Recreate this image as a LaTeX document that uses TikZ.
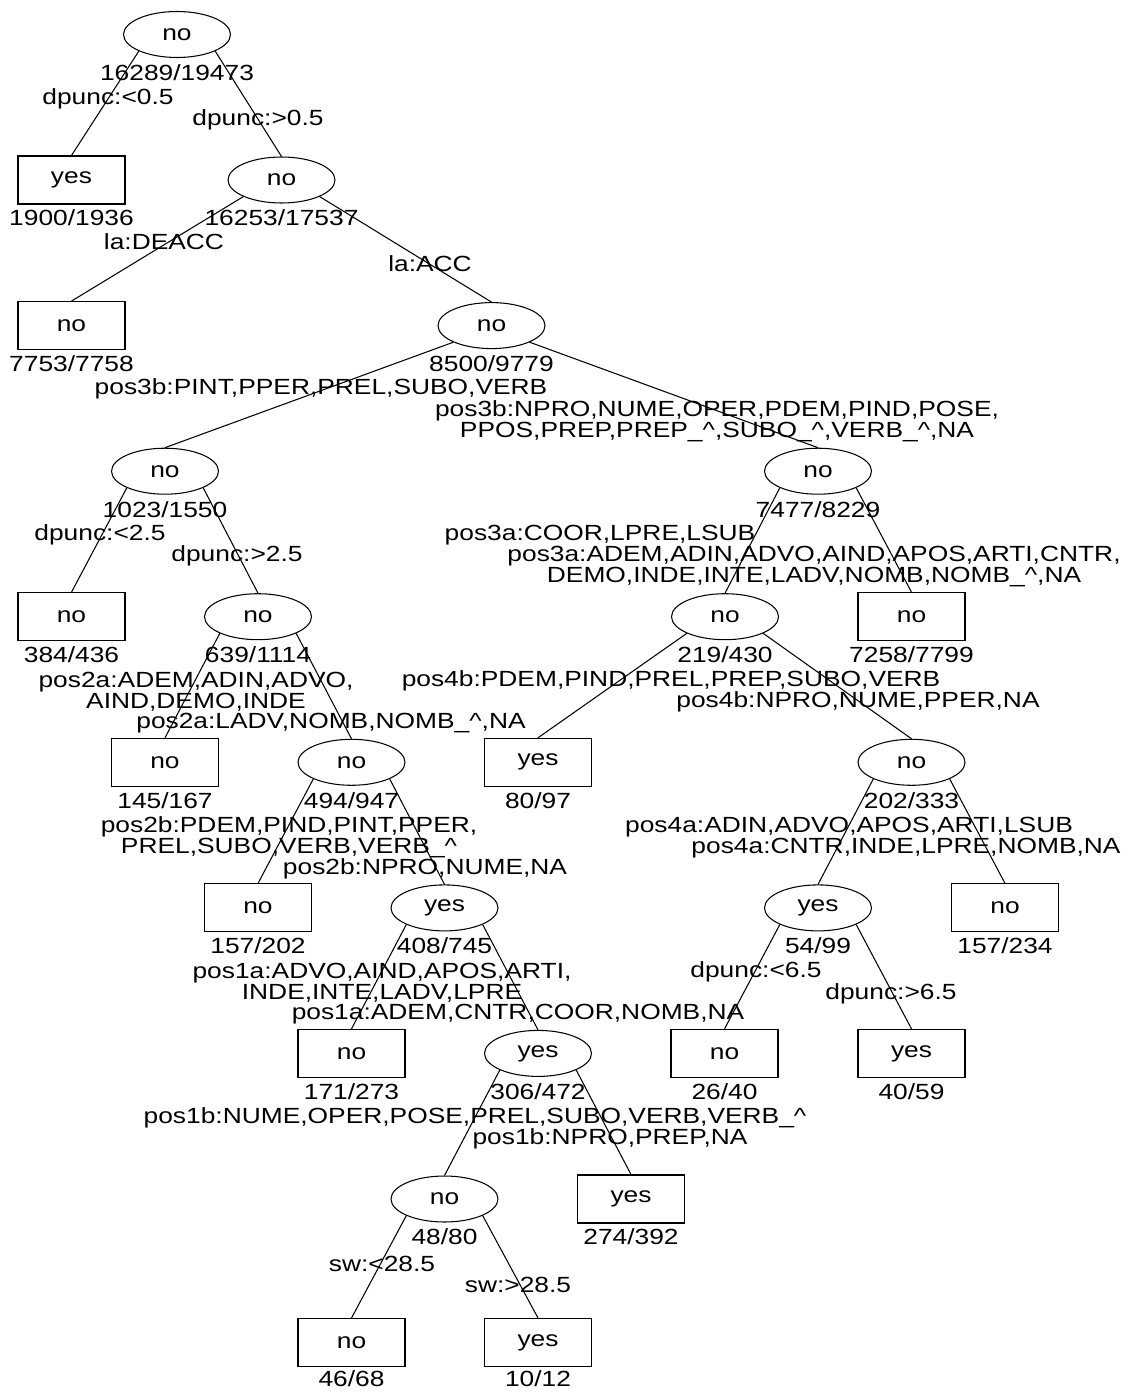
\documentclass[tikz,border=0pt]{standalone}
\usepackage{fontspec}
\setmainfont[FakeStretch=1.2]{Liberation Sans}
\usetikzlibrary{positioning, shapes.geometric}

\tikzset{
  split/.style={ellipse, draw, minimum width=2.14cm, minimum height=0.92cm, inner sep=0pt},
  leaf/.style={rectangle, draw, minimum width=2.14cm, minimum height=0.96cm, inner sep=0pt},
  cnt/.style={inner sep=0pt},
  rule/.style={inner sep=0pt, anchor=base},
  rules/.style={inner sep=0pt, align=center},
}

\begin{document}
\begin{tikzpicture}[x=0.02cm, y=-0.02cm, line width=0.6pt,
    font=\fontsize{12.5pt}{11.95pt}\selectfont]
        \useasboundingbox (0,0) rectangle (1136,1392);

        % tree nodes
        \node[split] (N1) at (177,34.5) {no};
        \node[leaf] (N2) at (71.5,180) {yes};
        \node[split] (N3) at (281.5,180) {no};
        \node[leaf] (N4) at (71.5,325.6) {no};
        \node[split] (N5) at (491.5,325.6) {no};
        \node[split] (N6) at (165,471.2) {no};
        \node[split] (N7) at (818,471.2) {no};
        \node[leaf] (N8) at (71.5,616.7) {no};
        \node[split] (N9) at (258,616.7) {no};
        \node[split] (N10) at (725,616.7) {no};
        \node[leaf] (N11) at (911.5,616.7) {no};
        \node[leaf] (N12) at (165,762.3) {no};
        \node[split] (N13) at (351.5,762.3) {no};
        \node[leaf] (N14) at (538,762.3) {yes};
        \node[split] (N15) at (911.5,762.3) {no};
        \node[leaf] (N16) at (258,907.9) {no};
        \node[split] (N17) at (444.5,907.9) {yes};
        \node[split] (N18) at (818,907.9) {yes};
        \node[leaf] (N19) at (1005,907.9) {no};
        \node[leaf] (N20) at (351.5,1053.4) {no};
        \node[split] (N21) at (538,1053.4) {yes};
        \node[leaf] (N22) at (724.5,1053.4) {no};
        \node[leaf] (N23) at (911.5,1053.4) {yes};
        \node[split] (N24) at (444.5,1199) {no};
        \node[leaf] (N25) at (631,1199) {yes};
        \node[leaf] (N26) at (351.5,1342.5) {no};
        \node[leaf] (N27) at (538,1342.5) {yes};

        % counts
        \node[cnt, below=0.12cm of N1] {16289/19473};
        \node[cnt, below=0.1cm of N2] {1900/1936};
        \node[cnt, below=0.12cm of N3] {16253/17537};
        \node[cnt, below=0.1cm of N4] {7753/7758};
        \node[cnt, below=0.12cm of N5] {8500/9779};
        \node[cnt, below=0.12cm of N6] {1023/1550};
        \node[cnt, below=0.12cm of N7] {7477/8229};
        \node[cnt, below=0.1cm of N8] {384/436};
        \node[cnt, below=0.12cm of N9] {639/1114};
        \node[cnt, below=0.12cm of N10] {219/430};
        \node[cnt, below=0.1cm of N11] {7258/7799};
        \node[cnt, below=0.1cm of N12] {145/167};
        \node[cnt, below=0.12cm of N13] {494/947};
        \node[cnt, below=0.1cm of N14] {80/97};
        \node[cnt, below=0.12cm of N15] {202/333};
        \node[cnt, below=0.1cm of N16] {157/202};
        \node[cnt, below=0.12cm of N17] {408/745};
        \node[cnt, below=0.12cm of N18] {54/99};
        \node[cnt, below=0.1cm of N19] {157/234};
        \node[cnt, below=0.1cm of N20] {171/273};
        \node[cnt, below=0.12cm of N21] {306/472};
        \node[cnt, below=0.1cm of N22] {26/40};
        \node[cnt, below=0.1cm of N23] {40/59};
        \node[cnt, below=0.12cm of N24] {48/80};
        \node[cnt, below=0.1cm of N25] {274/392};
        \node[cnt, below=0.07cm of N26] {46/68};
        \node[cnt, below=0.07cm of N27] {10/12};

        % branches
        \draw (N1.south west) -- (N2.north) (N1.south east) -- (N3.north);
        \draw (N3.south west) -- (N4.north) (N3.south east) -- (N5.north);
        \draw (N5.south west) -- (N6.north) (N5.south east) -- (N7.north);
        \draw (N6.south west) -- (N8.north) (N6.south east) -- (N9.north);
        \draw (N7.south west) -- (N10.north) (N7.south east) -- (N11.north);
        \draw (N9.south west) -- (N12.north) (N9.south east) -- (N13.north);
        \draw (N10.south west) -- (N14.north) (N10.south east) -- (N15.north);
        \draw (N13.south west) -- (N16.north) (N13.south east) -- (N17.north);
        \draw (N15.south west) -- (N18.north) (N15.south east) -- (N19.north);
        \draw (N17.south west) -- (N20.north) (N17.south east) -- (N21.north);
        \draw (N18.south west) -- (N22.north) (N18.south east) -- (N23.north);
        \draw (N21.south west) -- (N24.north) (N21.south east) -- (N25.north);
        \draw (N24.south west) -- (N26.north) (N24.south east) -- (N27.north);

        % split rules
        \node[rule] (r1a) at (108,104.4) {dpunc:<0.5};
        \node[rule] (r1b) at (258,125.4) {dpunc:>0.5};
        \node[rule] (r3a) at (164,250) {la:DEACC};
        \node[rule] (r3b) at (430,271) {la:ACC};
        \node[rule] (r5a) at (321,394) {pos3b:PINT,PPER,PREL,SUBO,VERB};
        \node[rules] (r5b) at (717,421.3) {pos3b:NPRO,NUME,OPER,PDEM,PIND,POSE,\\PPOS,PREP,PREP\_\textasciicircum,SUBO\_\textasciicircum,VERB\_\textasciicircum,NA};
        \node[rule] (r6a) at (100,540.9) {dpunc:<2.5};
        \node[rule] (r6b) at (237,561.9) {dpunc:>2.5};
        \node[rule] (r7a) at (600,540.9) {pos3a:COOR,LPRE,LSUB};
        \node[rules] (r7b) at (814,566.7) {pos3a:ADEM,ADIN,ADVO,AIND,APOS,ARTI,CNTR,\\DEMO,INDE,INTE,LADV,NOMB,NOMB\_\textasciicircum,NA};
        \node[rules] (r9a) at (196,691.4) {pos2a:ADEM,ADIN,ADVO,\\AIND,DEMO,INDE};
        \node[rule] (r9b) at (331,728.6) {pos2a:LADV,NOMB,NOMB\_\textasciicircum,NA};
        \node[rule] (r10a) at (671,686.6) {pos4b:PDEM,PIND,PREL,PREP,SUBO,VERB};
        \node[rule] (r10b) at (858,707.6) {pos4b:NPRO,NUME,PPER,NA};
        \node[rules] (r13a) at (289,837) {pos2b:PDEM,PIND,PINT,PPER,\\PREL,SUBO,VERB,VERB\_\textasciicircum};
        \node[rule] (r13b) at (425,874.2) {pos2b:NPRO,NUME,NA};
        \node[rule] (r15a) at (849,832.2) {pos4a:ADIN,ADVO,APOS,ARTI,LSUB};
        \node[rule] (r15b) at (906,853.2) {pos4a:CNTR,INDE,LPRE,NOMB,NA};
        \node[rules] (r17a) at (382,982.7) {pos1a:ADVO,AIND,APOS,ARTI,\\INDE,INTE,LADV,LPRE};
        \node[rule] (r17b) at (518,1019.9) {pos1a:ADEM,CNTR,COOR,NOMB,NA};
        \node[rule] (r18a) at (756,977.9) {dpunc:<6.5};
        \node[rule] (r18b) at (891,999.4) {dpunc:>6.5};
        \node[rule] (r21a) at (475,1123.3) {pos1b:NUME,OPER,POSE,PREL,SUBO,VERB,VERB\_\textasciicircum};
        \node[rule] (r21b) at (610,1144.3) {pos1b:NPRO,PREP,NA};
        \node[rule] (r24a) at (382,1271) {sw:<28.5};
        \node[rule] (r24b) at (518,1292.9) {sw:>28.5};
\end{tikzpicture}
\end{document}
